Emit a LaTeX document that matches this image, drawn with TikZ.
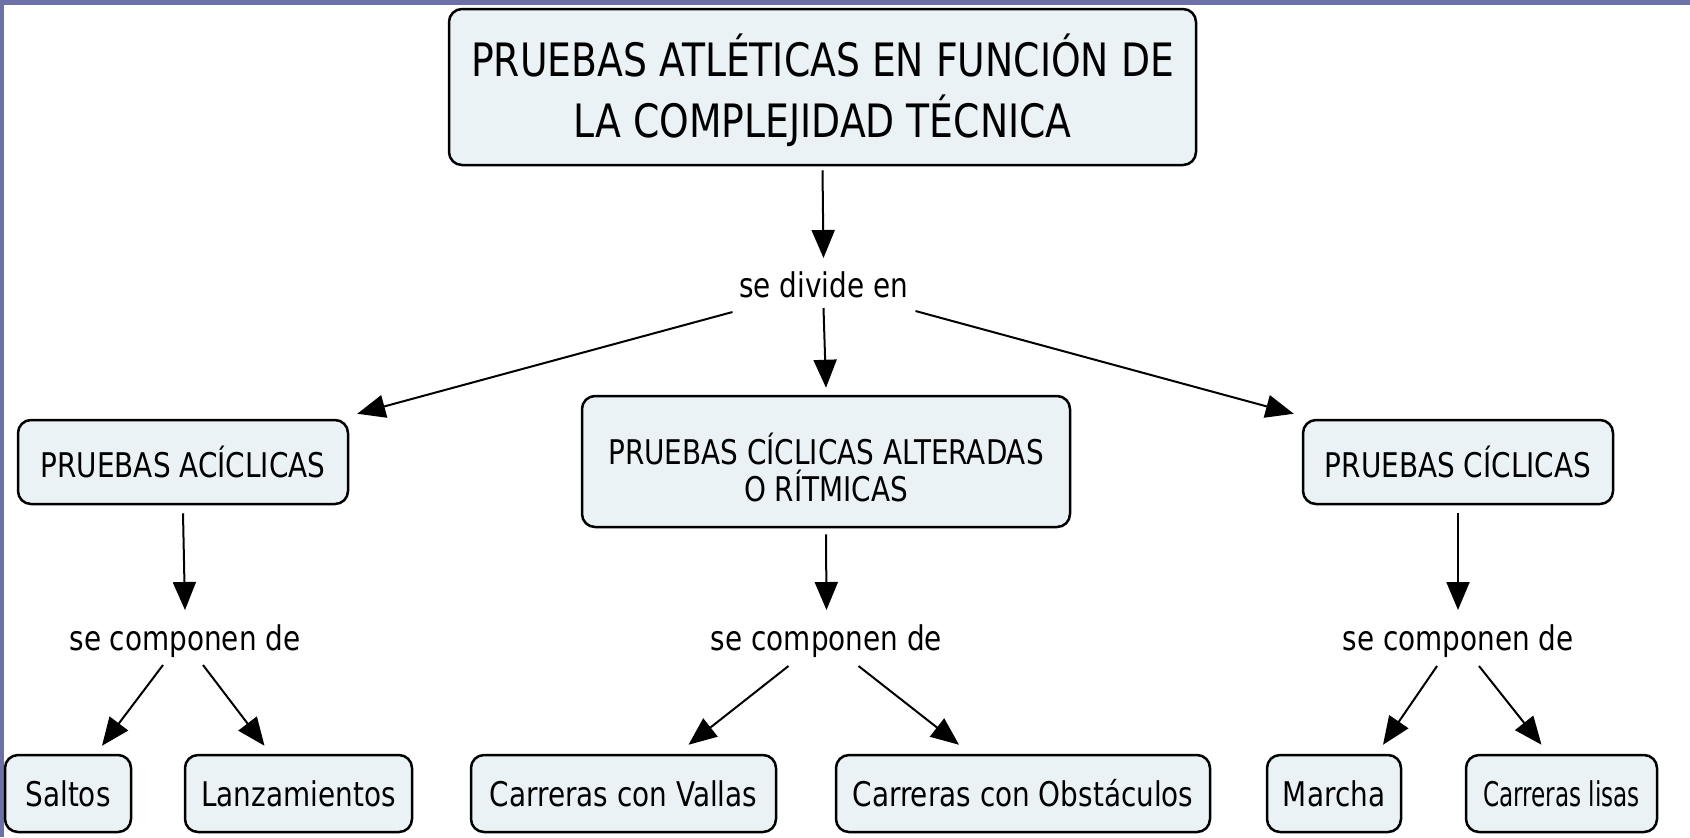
\documentclass[tikz,border=0pt]{standalone}
\usepackage{fontspec}
\setmainfont{DejaVu Sans}[FakeStretch=0.82]
\newfontfamily\narrowfont{DejaVu Sans}[FakeStretch=0.68]
\usetikzlibrary{arrows.meta,calc}
\definecolor{boxfill}{RGB}{234,242,245}
\definecolor{framecol}{RGB}{108,114,168}
\begin{document}
\begin{tikzpicture}[x=0.5pt,y=-0.5pt,
  cbox/.style={draw=black, line width=1.25pt, fill=boxfill, rounded corners=6.5pt,
    inner sep=0pt, align=center, font=\fontsize{17pt}{18.5pt}\selectfont},
  lbl/.style={inner sep=0pt, anchor=base, font=\fontsize{17pt}{18.5pt}\selectfont},
  arr/.style={line width=1pt, -{Triangle[length=14pt,width=11.5pt]}}]
\useasboundingbox (0,0) rectangle (1690,837);
\fill[white] (0,0) rectangle (1690,837);
\fill[framecol] (0,0) rectangle (1690,5);
\fill[framecol] (0,0) rectangle (4,837);

% boxes
\node[cbox, minimum width=373.5pt, minimum height=78pt, font=\fontsize{23pt}{30.5pt}\selectfont]
  (top) at (822.5,87) {\rule{0pt}{25pt}PRUEBAS ATLÉTICAS EN FUNCIÓN DE\\LA COMPLEJIDAD TÉCNICA};
\node[cbox, minimum width=165pt, minimum height=42pt] (acic) at (183,462) {PRUEBAS ACÍCLICAS};
\node[cbox, minimum width=244pt, minimum height=65.5pt] (ritm) at (826,461.5)
  {\rule{0pt}{22pt}PRUEBAS CÍCLICAS ALTERADAS\\O RÍTMICAS};
\node[cbox, minimum width=155pt, minimum height=42pt] (cicl) at (1458,462) {PRUEBAS CÍCLICAS};

\node[cbox, minimum width=63pt, minimum height=38.5pt] (saltos) at (68,793.5) {Saltos};
\node[cbox, minimum width=113.5pt, minimum height=38.5pt] (lanz) at (298.5,793.5) {Lanzamientos};
\node[cbox, minimum width=152.5pt, minimum height=38.5pt] (vallas) at (623.5,793.5) {Carreras con Vallas};
\node[cbox, minimum width=187pt, minimum height=38.5pt] (obst) at (1023,793.5) {Carreras con Obstáculos};
\node[cbox, minimum width=67pt, minimum height=38.5pt] (marcha) at (1334,793.5) {Marcha};
\node[cbox, minimum width=95.5pt, minimum height=38.5pt,
  font=\narrowfont\fontsize{17pt}{18.5pt}\selectfont] (lisas) at (1561.5,793.5) {Carreras lisas};

% linking phrases
\node[lbl] (div) at (823.5,297) {se divide en};
\node[lbl] (compA) at (185,650) {se componen de};
\node[lbl] (compB) at (826.5,650) {se componen de};
\node[lbl] (compC) at (1458,650) {se componen de};

% connectors
\draw[arr] ($(top.south)+(0,4)$) -- ($(div.base)+(0,-39)$);
\draw[arr] ($(div.base)+(-91,15)$) -- ($(acic.north east)+(8,-5)$);
\draw[arr] ($(div.base)+(0,11)$) -- ($(ritm.north)+(0,-7)$);
\draw[arr] ($(div.base)+(92,14)$) -- ($(cicl.north west)+(-8,-5)$);

\draw[arr] ($(acic.south)+(0,8)$) -- ($(compA.base)+(0,-40)$);
\draw[arr] ($(ritm.south)+(0,6)$) -- ($(compB.base)+(0,-40)$);
\draw[arr] ($(cicl.south)+(0,8)$) -- ($(compC.base)+(0,-40)$);

\draw[arr] ($(compA.base)+(-22,15)$) -- ($(saltos.north)+(34,-8)$);
\draw[arr] ($(compA.base)+(18,15)$) -- ($(lanz.north)+(-34,-8)$);
\draw[arr] ($(compB.base)+(-38,16)$) -- ($(vallas.north)+(65,-9)$);
\draw[arr] ($(compB.base)+(32,16)$) -- ($(obst.north)+(-64,-9)$);
\draw[arr] ($(compC.base)+(-21,16)$) -- ($(marcha.north)+(49,-9)$);
\draw[arr] ($(compC.base)+(21,16)$) -- ($(lisas.north)+(-20,-9)$);
\end{tikzpicture}
\end{document}
